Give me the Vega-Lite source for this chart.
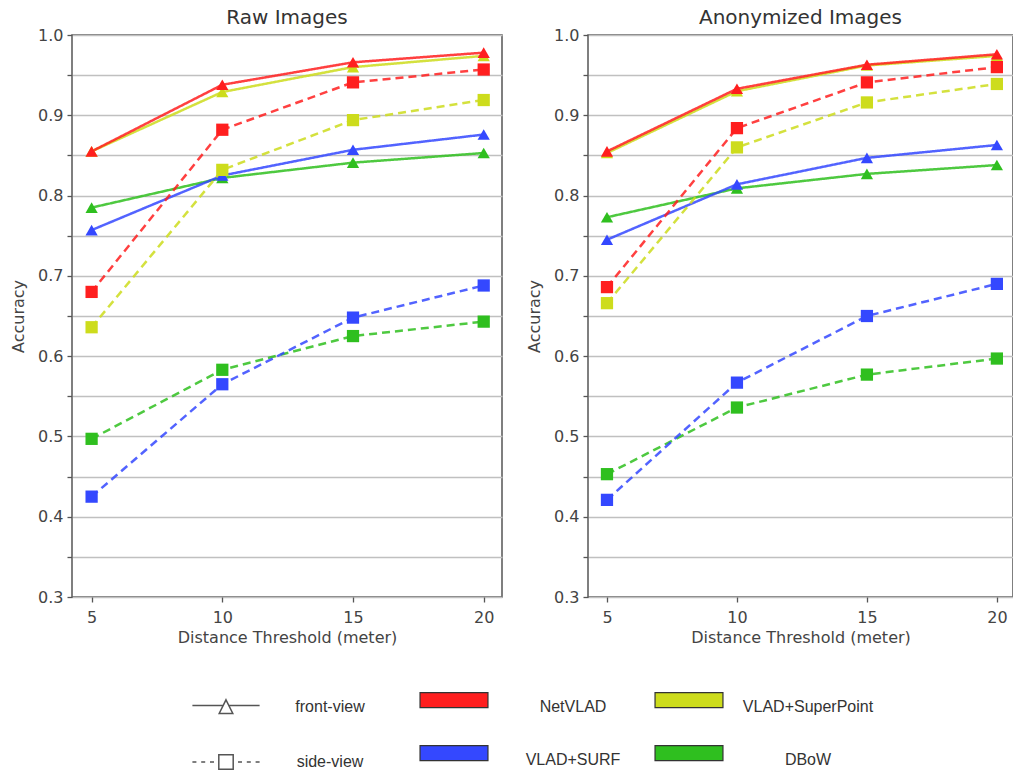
{
  "$schema": "https://vega.github.io/schema/vega-lite/v6.json",
  "padding": {"left": 9, "top": 7, "right": 0, "bottom": 0},
  "datasets": {
    "acc": [
      {"panel": "Raw Images", "method": "DBoW", "view": "front-view", "d": 5, "acc": 0.785},
      {"panel": "Raw Images", "method": "DBoW", "view": "front-view", "d": 10, "acc": 0.822},
      {"panel": "Raw Images", "method": "DBoW", "view": "front-view", "d": 15, "acc": 0.841},
      {"panel": "Raw Images", "method": "DBoW", "view": "front-view", "d": 20, "acc": 0.853},
      {"panel": "Raw Images", "method": "DBoW", "view": "side-view", "d": 5, "acc": 0.497},
      {"panel": "Raw Images", "method": "DBoW", "view": "side-view", "d": 10, "acc": 0.583},
      {"panel": "Raw Images", "method": "DBoW", "view": "side-view", "d": 15, "acc": 0.625},
      {"panel": "Raw Images", "method": "DBoW", "view": "side-view", "d": 20, "acc": 0.643},
      {"panel": "Raw Images", "method": "VLAD+SURF", "view": "front-view", "d": 5, "acc": 0.757},
      {"panel": "Raw Images", "method": "VLAD+SURF", "view": "front-view", "d": 10, "acc": 0.825},
      {"panel": "Raw Images", "method": "VLAD+SURF", "view": "front-view", "d": 15, "acc": 0.857},
      {"panel": "Raw Images", "method": "VLAD+SURF", "view": "front-view", "d": 20, "acc": 0.876},
      {"panel": "Raw Images", "method": "VLAD+SURF", "view": "side-view", "d": 5, "acc": 0.425},
      {"panel": "Raw Images", "method": "VLAD+SURF", "view": "side-view", "d": 10, "acc": 0.565},
      {"panel": "Raw Images", "method": "VLAD+SURF", "view": "side-view", "d": 15, "acc": 0.648},
      {"panel": "Raw Images", "method": "VLAD+SURF", "view": "side-view", "d": 20, "acc": 0.688},
      {"panel": "Raw Images", "method": "VLAD+SuperPoint", "view": "front-view", "d": 5, "acc": 0.855},
      {"panel": "Raw Images", "method": "VLAD+SuperPoint", "view": "front-view", "d": 10, "acc": 0.929},
      {"panel": "Raw Images", "method": "VLAD+SuperPoint", "view": "front-view", "d": 15, "acc": 0.960},
      {"panel": "Raw Images", "method": "VLAD+SuperPoint", "view": "front-view", "d": 20, "acc": 0.974},
      {"panel": "Raw Images", "method": "VLAD+SuperPoint", "view": "side-view", "d": 5, "acc": 0.636},
      {"panel": "Raw Images", "method": "VLAD+SuperPoint", "view": "side-view", "d": 10, "acc": 0.832},
      {"panel": "Raw Images", "method": "VLAD+SuperPoint", "view": "side-view", "d": 15, "acc": 0.894},
      {"panel": "Raw Images", "method": "VLAD+SuperPoint", "view": "side-view", "d": 20, "acc": 0.919},
      {"panel": "Raw Images", "method": "NetVLAD", "view": "front-view", "d": 5, "acc": 0.855},
      {"panel": "Raw Images", "method": "NetVLAD", "view": "front-view", "d": 10, "acc": 0.938},
      {"panel": "Raw Images", "method": "NetVLAD", "view": "front-view", "d": 15, "acc": 0.966},
      {"panel": "Raw Images", "method": "NetVLAD", "view": "front-view", "d": 20, "acc": 0.978},
      {"panel": "Raw Images", "method": "NetVLAD", "view": "side-view", "d": 5, "acc": 0.680},
      {"panel": "Raw Images", "method": "NetVLAD", "view": "side-view", "d": 10, "acc": 0.882},
      {"panel": "Raw Images", "method": "NetVLAD", "view": "side-view", "d": 15, "acc": 0.941},
      {"panel": "Raw Images", "method": "NetVLAD", "view": "side-view", "d": 20, "acc": 0.957},
      {"panel": "Anonymized Images", "method": "DBoW", "view": "front-view", "d": 5, "acc": 0.773},
      {"panel": "Anonymized Images", "method": "DBoW", "view": "front-view", "d": 10, "acc": 0.809},
      {"panel": "Anonymized Images", "method": "DBoW", "view": "front-view", "d": 15, "acc": 0.827},
      {"panel": "Anonymized Images", "method": "DBoW", "view": "front-view", "d": 20, "acc": 0.838},
      {"panel": "Anonymized Images", "method": "DBoW", "view": "side-view", "d": 5, "acc": 0.453},
      {"panel": "Anonymized Images", "method": "DBoW", "view": "side-view", "d": 10, "acc": 0.536},
      {"panel": "Anonymized Images", "method": "DBoW", "view": "side-view", "d": 15, "acc": 0.577},
      {"panel": "Anonymized Images", "method": "DBoW", "view": "side-view", "d": 20, "acc": 0.597},
      {"panel": "Anonymized Images", "method": "VLAD+SURF", "view": "front-view", "d": 5, "acc": 0.745},
      {"panel": "Anonymized Images", "method": "VLAD+SURF", "view": "front-view", "d": 10, "acc": 0.814},
      {"panel": "Anonymized Images", "method": "VLAD+SURF", "view": "front-view", "d": 15, "acc": 0.847},
      {"panel": "Anonymized Images", "method": "VLAD+SURF", "view": "front-view", "d": 20, "acc": 0.863},
      {"panel": "Anonymized Images", "method": "VLAD+SURF", "view": "side-view", "d": 5, "acc": 0.421},
      {"panel": "Anonymized Images", "method": "VLAD+SURF", "view": "side-view", "d": 10, "acc": 0.567},
      {"panel": "Anonymized Images", "method": "VLAD+SURF", "view": "side-view", "d": 15, "acc": 0.650},
      {"panel": "Anonymized Images", "method": "VLAD+SURF", "view": "side-view", "d": 20, "acc": 0.690},
      {"panel": "Anonymized Images", "method": "VLAD+SuperPoint", "view": "front-view", "d": 5, "acc": 0.853},
      {"panel": "Anonymized Images", "method": "VLAD+SuperPoint", "view": "front-view", "d": 10, "acc": 0.930},
      {"panel": "Anonymized Images", "method": "VLAD+SuperPoint", "view": "front-view", "d": 15, "acc": 0.962},
      {"panel": "Anonymized Images", "method": "VLAD+SuperPoint", "view": "front-view", "d": 20, "acc": 0.974},
      {"panel": "Anonymized Images", "method": "VLAD+SuperPoint", "view": "side-view", "d": 5, "acc": 0.666},
      {"panel": "Anonymized Images", "method": "VLAD+SuperPoint", "view": "side-view", "d": 10, "acc": 0.860},
      {"panel": "Anonymized Images", "method": "VLAD+SuperPoint", "view": "side-view", "d": 15, "acc": 0.916},
      {"panel": "Anonymized Images", "method": "VLAD+SuperPoint", "view": "side-view", "d": 20, "acc": 0.939},
      {"panel": "Anonymized Images", "method": "NetVLAD", "view": "front-view", "d": 5, "acc": 0.855},
      {"panel": "Anonymized Images", "method": "NetVLAD", "view": "front-view", "d": 10, "acc": 0.933},
      {"panel": "Anonymized Images", "method": "NetVLAD", "view": "front-view", "d": 15, "acc": 0.963},
      {"panel": "Anonymized Images", "method": "NetVLAD", "view": "front-view", "d": 20, "acc": 0.976},
      {"panel": "Anonymized Images", "method": "NetVLAD", "view": "side-view", "d": 5, "acc": 0.686},
      {"panel": "Anonymized Images", "method": "NetVLAD", "view": "side-view", "d": 10, "acc": 0.884},
      {"panel": "Anonymized Images", "method": "NetVLAD", "view": "side-view", "d": 15, "acc": 0.941},
      {"panel": "Anonymized Images", "method": "NetVLAD", "view": "side-view", "d": 20, "acc": 0.960}
    ]
  },
  "data": {"name": "acc"},
  "spacing": 22,
  "hconcat": [
    {
      "title": "Raw Images",
      "width": 430,
      "height": 562,
      "transform": [{"filter": "datum.panel === 'Raw Images'"}],
      "encoding": {
        "x": {"field": "d", "type": "quantitative", "scale": {"domain": [4.25, 20.7], "nice": false, "zero": false},
              "axis": {"values": [5, 10, 15, 20], "title": "Distance Threshold (meter)"}},
        "y": {"field": "acc", "type": "quantitative", "scale": {"domain": [0.3, 1.0], "nice": false, "zero": false},
              "axis": {"values": [0.3, 0.35, 0.4, 0.45, 0.5, 0.55, 0.6, 0.65, 0.7, 0.75, 0.8, 0.85, 0.9, 0.95, 1.0],
                       "labelExpr": "round(datum.value * 100) % 10 === 0 ? format(datum.value, '.1f') : ''",
                       "title": "Accuracy"}}
      },
      "layer": [
        {"mark": {"type": "line", "strokeWidth": 2.5, "opacity": 0.85},
         "encoding": {"color": {"field": "method", "type": "nominal",
                                "scale": {"domain": ["DBoW", "VLAD+SURF", "VLAD+SuperPoint", "NetVLAD"],
                                          "range": ["#2fbf1f", "#3448ff", "#cddc1c", "#ff1f1f"]},
                                "legend": null},
                      "detail": {"field": "view", "type": "nominal"},
                      "strokeDash": {"condition": {"test": "datum.view === 'side-view'", "value": [8, 5]}, "value": [1, 0]}}},
        {"mark": {"type": "point", "filled": true, "opacity": 1, "size": 150},
         "encoding": {"shape": {"condition": {"test": "datum.view === 'side-view'", "value": "square"}, "value": "triangle-up"},
                      "fill": {"field": "method", "type": "nominal",
                               "scale": {"domain": ["NetVLAD", "VLAD+SuperPoint", "VLAD+SURF", "DBoW"],
                                         "range": ["#ff1f1f", "#cddc1c", "#3448ff", "#2fbf1f"]},
                               "legend": {"orient": "none", "legendX": 347, "legendY": 659, "columns": 2, "direction": "horizontal",
                                          "title": null, "padding": 0,
                                          "symbolType": "M-2.83,-1.2H2.83V0.05H-2.83Z", "symbolSize": 576,
                                          "symbolStrokeColor": "#333", "symbolStrokeWidth": 1.2, "symbolOpacity": 1,
                                          "symbolOffset": 22, "labelAlign": "center", "labelOffset": 106,
                                          "columnPadding": 13, "rowPadding": 28, "gridAlign": "all",
                                          "labelFont": "Liberation Sans", "labelFontSize": 16, "labelColor": "#333"}}}},
        {"transform": [{"filter": "false"}],
         "mark": {"type": "point", "filled": false, "color": "#555", "strokeWidth": 1.5, "size": 256},
         "encoding": {"shape": {"field": "view", "type": "nominal",
                                "scale": {"domain": ["front-view", "side-view"],
                                          "range": ["M-4.2,-0.2H-0.35M0.35,-0.2H4.2M0,-0.9L0.85,0.8L-0.85,0.8Z",
                                                    "M-4.2,0H-3.7M-3.1,0H-2.6M-2.0,0H-1.5M1.5,0H2.0M2.6,0H3.1M3.7,0H4.2M-0.9,-0.9H0.9V0.9H-0.9Z"]},
                                "legend": {"orient": "none", "legendX": 119, "legendY": 663, "direction": "vertical", "title": null, "padding": 0,
                                           "symbolSize": 256, "symbolStrokeColor": "#555", "symbolStrokeWidth": 1.5, "symbolFillColor": "transparent", "symbolOpacity": 1,
                                           "symbolOffset": 26, "labelAlign": "center", "labelOffset": 95, "rowPadding": 34,
                                           "labelFont": "Liberation Sans", "labelFontSize": 16, "labelColor": "#333"}}}}
      ]
    },
    {
      "title": "Anonymized Images",
      "width": 425,
      "height": 562,
      "transform": [{"filter": "datum.panel === 'Anonymized Images'"}],
      "encoding": {
        "x": {"field": "d", "type": "quantitative", "scale": {"domain": [4.27, 20.62], "nice": false, "zero": false},
              "axis": {"values": [5, 10, 15, 20], "title": "Distance Threshold (meter)"}},
        "y": {"field": "acc", "type": "quantitative", "scale": {"domain": [0.3, 1.0], "nice": false, "zero": false},
              "axis": {"values": [0.3, 0.35, 0.4, 0.45, 0.5, 0.55, 0.6, 0.65, 0.7, 0.75, 0.8, 0.85, 0.9, 0.95, 1.0],
                       "labelExpr": "round(datum.value * 100) % 10 === 0 ? format(datum.value, '.1f') : ''",
                       "title": "Accuracy"}}
      },
      "layer": [
        {"mark": {"type": "line", "strokeWidth": 2.5, "opacity": 0.85},
         "encoding": {"color": {"field": "method", "type": "nominal", "legend": null},
                      "detail": {"field": "view", "type": "nominal"},
                      "strokeDash": {"condition": {"test": "datum.view === 'side-view'", "value": [8, 5]}, "value": [1, 0]}}},
        {"mark": {"type": "point", "filled": true, "opacity": 1, "size": 150},
         "encoding": {"shape": {"condition": {"test": "datum.view === 'side-view'", "value": "square"}, "value": "triangle-up"},
                      "fill": {"field": "method", "type": "nominal"}}}
      ]
    }
  ],
  "resolve": {"scale": {"x": "independent", "y": "independent"}},
  "config": {
    "font": "DejaVu Sans",
    "view": {"stroke": "#555", "strokeWidth": 1.5},
    "title": {"font": "DejaVu Sans", "fontSize": 20, "fontWeight": "normal", "color": "#333", "offset": -1},
    "axis": {
      "domain": false, "grid": true, "gridColor": "#c0c0c0", "gridWidth": 1.4,
      "tickColor": "#555", "tickSize": 5, "tickWidth": 1.3,
      "labelFont": "DejaVu Sans", "labelFontSize": 16, "labelColor": "#444", "labelPadding": 4,
      "titleFont": "DejaVu Sans", "titleFontSize": 16, "titleFontWeight": "normal", "titleColor": "#444"
    },
    "axisX": {"grid": false, "labelPadding": 7, "titlePadding": 4},
    "axisY": {"titlePadding": 11}
  }
}
